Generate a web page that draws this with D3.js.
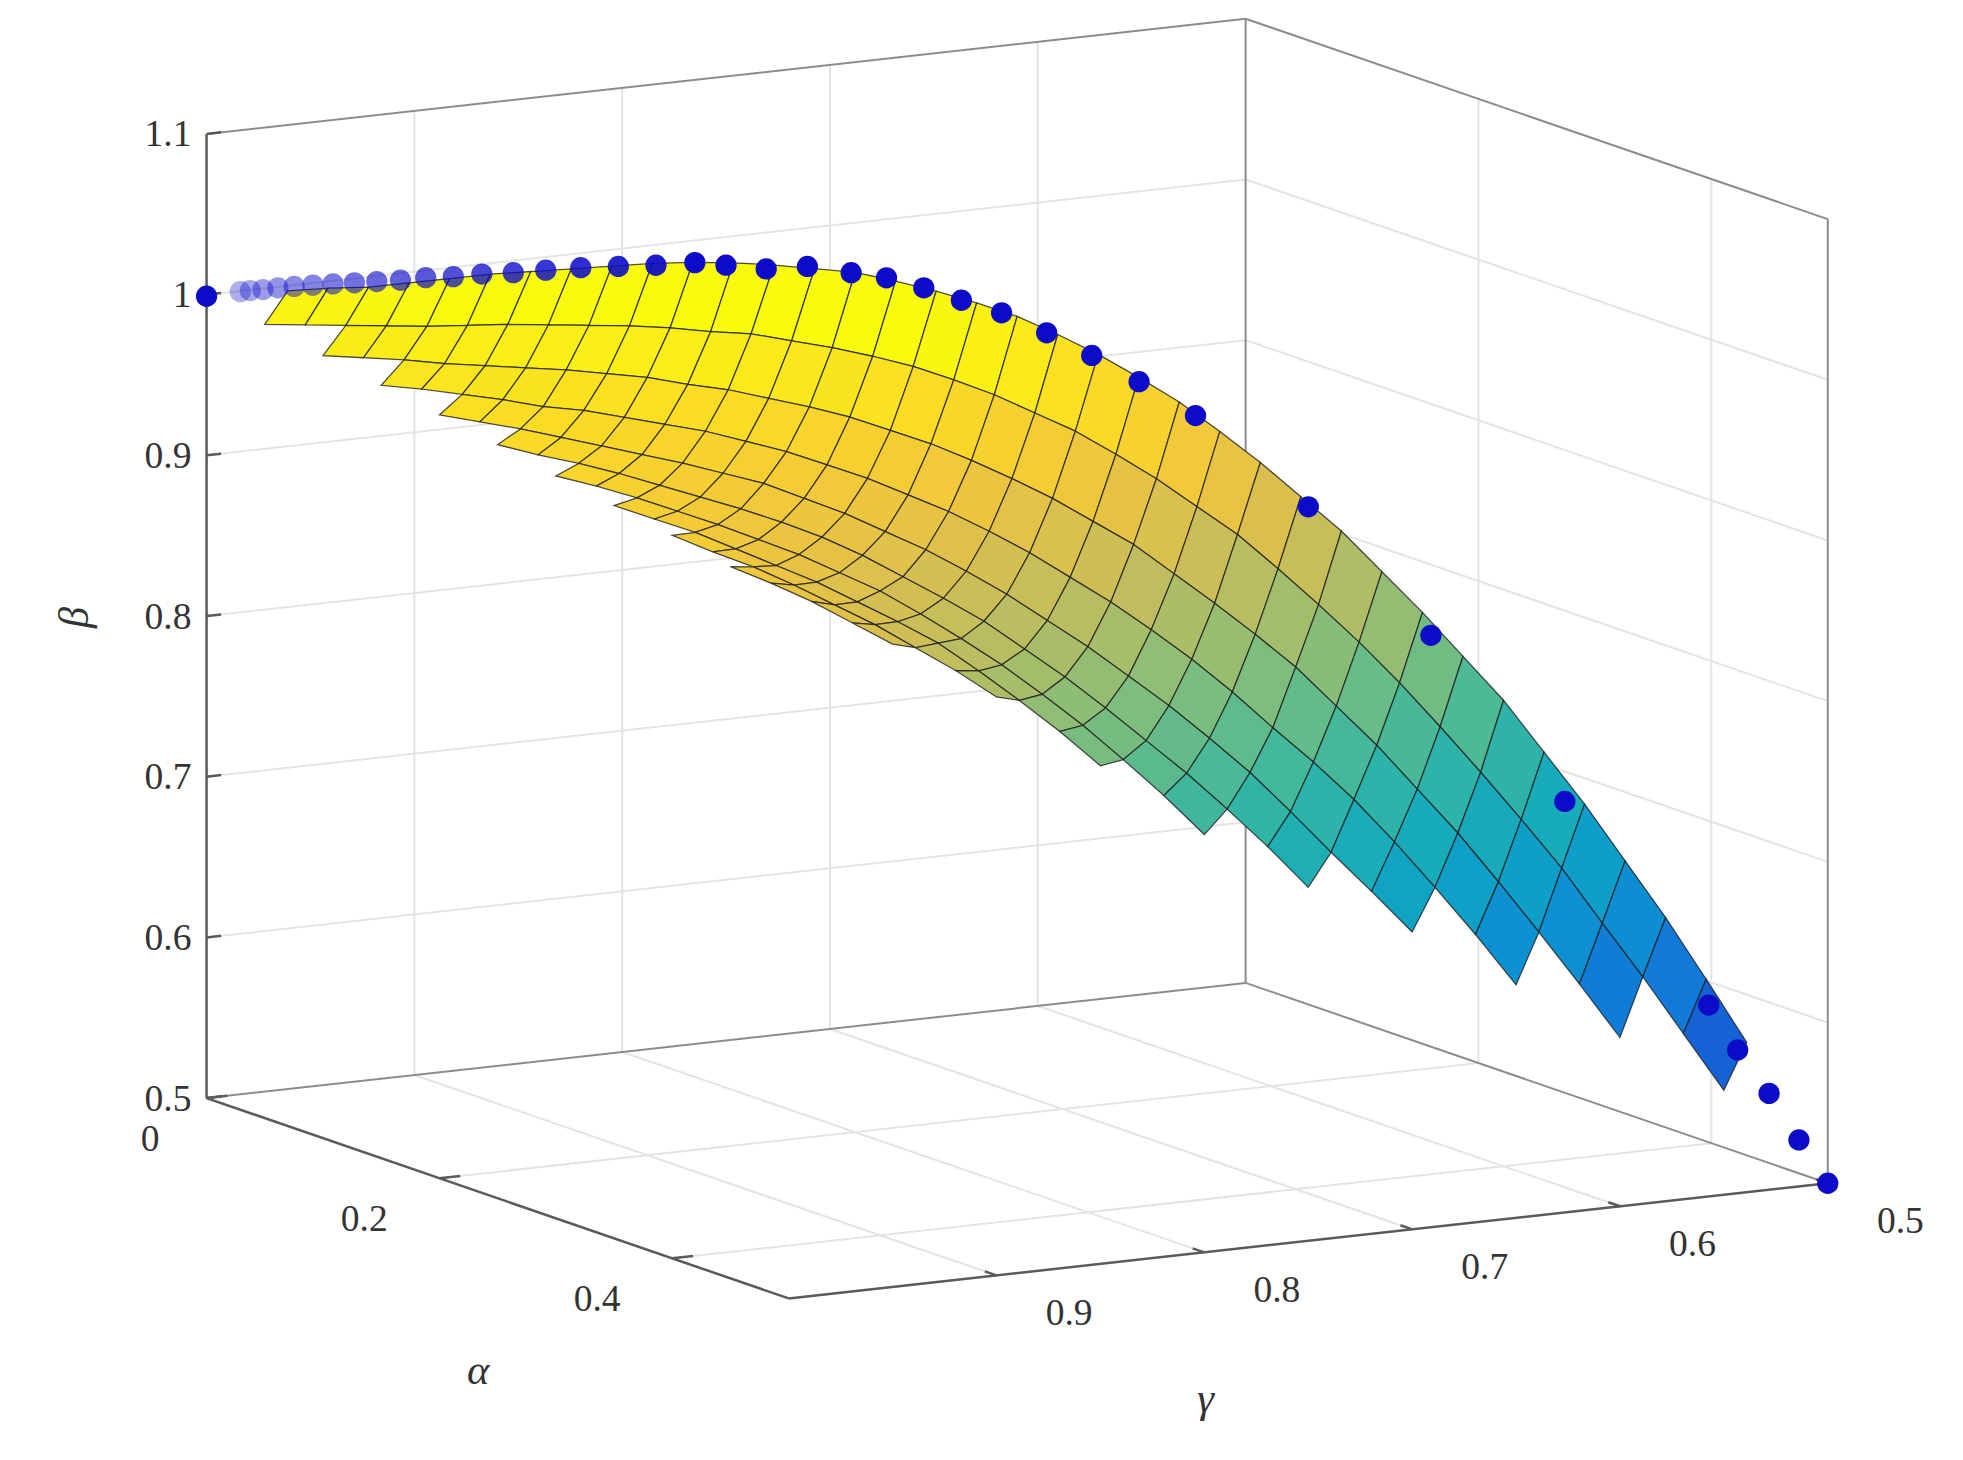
<!DOCTYPE html>
<html>
<head>
<meta charset="utf-8">
<script src="https://cdn.jsdelivr.net/npm/d3@7"></script>
<style>
  body { margin: 0; background: #fff; }
  text { font-family: "Liberation Serif", "DejaVu Serif", serif; fill: #333; }
</style>
</head>
<body>
<div id="chart"></div>
<script>
// Tick values for the three axes
var alphaTicks = [0, 0.2, 0.4];
var gammaTicks = [0.5, 0.6, 0.7, 0.8, 0.9];
var betaTicks = [0.5, 0.6, 0.7, 0.8, 0.9, 1, 1.1];
var alphaGrid = [0.2, 0.4];
var gammaGrid = [0.6, 0.7, 0.8, 0.9];

// Surface heights, row K: a = alpha + (1 - gamma) = K * 0.025,
// column j: b = alpha - (1 - gamma) = j * 0.05
var betaRows = [
  [1.0],
  [1.003],
  [1.005, 0.994],
  [1.008, 0.995],
  [1.01, 0.996, 0.987],
  [1.014, 0.997, 0.987],
  [1.018, 0.998, 0.987, 0.981],
  [1.022, 1.0, 0.986, 0.980],
  [1.025, 1.002, 0.986, 0.978, 0.975],
  [1.028, 1.003, 0.986, 0.976, 0.972],
  [1.031, 1.004, 0.986, 0.973, 0.969, 0.969],
  [1.034, 1.005, 0.985, 0.972, 0.965, 0.964],
  [1.036, 1.005, 0.984, 0.969, 0.961, 0.960, 0.962],
  [1.037, 1.004, 0.981, 0.966, 0.957, 0.955, 0.957],
  [1.037, 1.004, 0.979, 0.963, 0.953, 0.949, 0.951, 0.956],
  [1.036, 1.001, 0.975, 0.958, 0.948, 0.943, 0.944, 0.949],
  [1.035, 0.998, 0.971, 0.953, 0.943, 0.937, 0.937, 0.942, 0.950],
  [1.031, 0.994, 0.966, 0.946, 0.935, 0.930, 0.929, 0.933, 0.941],
  [1.026, 0.989, 0.959, 0.939, 0.927, 0.922, 0.921, 0.924, 0.933, 0.943],
  [1.020, 0.982, 0.952, 0.930, 0.917, 0.912, 0.911, 0.915, 0.923, 0.934],
  [1.013, 0.974, 0.943, 0.921, 0.907, 0.900, 0.901, 0.904, 0.912, 0.924, 0.937],
  [1.003, 0.964, 0.933, 0.910, 0.895, 0.888, 0.888, 0.893, 0.901, 0.912],
  [0.992, 0.954, 0.922, 0.898, 0.882, 0.875, 0.874, 0.881, 0.888, 0.900],
  [0.979, 0.941, 0.909, 0.884, 0.867, 0.859, 0.859, 0.865, 0.875],
  [0.965, 0.927, 0.896, 0.870, 0.852, 0.843, 0.842, 0.848, 0.860],
  [0.948, 0.911, 0.879, 0.854, 0.835, 0.825, 0.824, 0.830],
  [0.930, 0.895, 0.862, 0.837, 0.818, 0.806, 0.804, 0.810],
  [0.910, 0.875, 0.844, 0.818, 0.799, 0.787, 0.783],
  [0.890, 0.854, 0.825, 0.797, 0.779, 0.766, 0.760],
  [0.866, 0.832, 0.802, 0.777, 0.756, 0.744],
  [0.842, 0.808, 0.779, 0.755, 0.732, 0.720],
  [0.816, 0.782, 0.753, 0.730, 0.709],
  [0.790, 0.755, 0.727, 0.703, 0.685],
  [0.759, 0.727, 0.698, 0.675],
  [0.728, 0.698, 0.668, 0.645],
  [0.694, 0.665, 0.637],
  [0.660, 0.633, 0.605],
  [0.623, 0.599],
  [0.585, 0.565],
  [0.543],
  [0.5]
];

// Boundary points (alpha = 1 - gamma)
var dotGamma = [1, 0.9896, 0.9865, 0.9826, 0.978, 0.973, 0.9672, 0.961, 0.9544, 0.9475, 0.9402,
  0.9324, 0.9239, 0.9151, 0.9054, 0.8954, 0.8846, 0.873, 0.8614,
  0.8494, 0.8398, 0.8274, 0.8147, 0.8012, 0.7903, 0.7788, 0.7672, 0.7548, 0.7409, 0.727,
  0.7124, 0.695, 0.6602, 0.6224, 0.5811, 0.5367, 0.5278, 0.5181, 0.5089, 0.5];
var dotBeta = [0.999, 1.003, 1.004, 1.005, 1.0066, 1.008, 1.0094, 1.0108, 1.0122, 1.0137, 1.0153,
  1.0177, 1.0193, 1.0218, 1.0237, 1.0263, 1.029, 1.031, 1.033,
  1.0359, 1.0353, 1.0343, 1.0372, 1.0347, 1.0327, 1.0277, 1.0212, 1.0147, 1.0037, 0.9911,
  0.9763, 0.9571, 0.904, 0.828, 0.729, 0.607, 0.580, 0.554, 0.526, 0.5];

var svgWidth = 1963, svgHeight = 1460;
var svg = d3.select("#chart").append("svg")
  .attr("width", svgWidth).attr("height", svgHeight);
var g = svg.append("g").attr("transform", "scale(1.2519,1.2521)");

// Oblique projection built from scales
var xA = d3.scaleLinear().domain([0, 0.5]).range([0, 465]);
var yA = d3.scaleLinear().domain([0, 0.5]).range([0, 160]);
var xG = d3.scaleLinear().domain([1, 0.5]).range([0, 830]);
var yG = d3.scaleLinear().domain([1, 0.5]).range([0, -92]);
var yB = d3.scaleLinear().domain([0.5, 1.1]).range([0, -770]);
function P(a, gm, b) {
  return [165 + xA(a) + xG(gm), 877 + yA(a) + yG(gm) + yB(b)];
}
function seg(p, q, color, w) {
  g.append("line").attr("x1", p[0]).attr("y1", p[1]).attr("x2", q[0]).attr("y2", q[1])
    .attr("stroke", color).attr("stroke-width", w);
}

// Grid lines
var gc = "#e4e4e4";
betaTicks.slice(1, -1).forEach(function(b) {
  seg(P(0, 1, b), P(0, 0.5, b), gc, 1.6);
  seg(P(0, 0.5, b), P(0.5, 0.5, b), gc, 1.6);
});
gammaGrid.forEach(function(gm) {
  seg(P(0, gm, 0.5), P(0, gm, 1.1), gc, 1.6);
  seg(P(0, gm, 0.5), P(0.5, gm, 0.5), gc, 1.6);
});
alphaGrid.forEach(function(a) {
  seg(P(a, 0.5, 0.5), P(a, 0.5, 1.1), gc, 1.6);
  seg(P(a, 1, 0.5), P(a, 0.5, 0.5), gc, 1.6);
});

// Box edges
var bc = "#8c8c8c";
seg(P(0, 1, 1.1), P(0, 0.5, 1.1), bc, 1.6);
seg(P(0, 0.5, 1.1), P(0.5, 0.5, 1.1), bc, 1.6);
seg(P(0, 0.5, 0.5), P(0, 0.5, 1.1), bc, 1.6);
seg(P(0.5, 0.5, 0.5), P(0.5, 0.5, 1.1), bc, 1.6);
seg(P(0, 1, 0.5), P(0, 0.5, 0.5), bc, 1.6);
seg(P(0, 0.5, 0.5), P(0.5, 0.5, 0.5), bc, 1.6);

// Axes
var ac = "#5a5a5a";
seg(P(0, 1, 0.5), P(0, 1, 1.1), ac, 2);
seg(P(0, 1, 0.5), P(0.5, 1, 0.5), ac, 2);
seg(P(0.5, 1, 0.5), P(0.5, 0.5, 0.5), ac, 2);

betaTicks.forEach(function(b) {
  seg(P(0, 1, b), P(0, 0.993, b), ac, 2);
  var p = P(0, 1, b);
  g.append("text").attr("x", p[0] - 12).attr("y", p[1] + 10)
    .attr("text-anchor", "end").attr("font-size", 30).text(d3.format("~g")(b));
});
alphaTicks.forEach(function(a) {
  seg(P(a, 1, 0.5), P(a, 0.99, 0.5), ac, 2);
  var p = P(a, 1, 0.5);
  g.append("text").attr("x", p[0] - (a === 0 ? 45 : 60)).attr("y", p[1] + 42)
    .attr("text-anchor", "middle").attr("font-size", 30).text(d3.format("~g")(a));
});
gammaTicks.forEach(function(gm) {
  seg(P(0.5, gm, 0.5), P(0.49, gm, 0.5), ac, 2);
  var p = P(0.5, gm, 0.5);
  g.append("text").attr("x", p[0] + 58).attr("y", p[1] + 40)
    .attr("text-anchor", "middle").attr("font-size", 30).text(d3.format("~g")(gm));
});

g.append("text").attr("x", 382).attr("y", 1105).attr("text-anchor", "middle")
  .attr("font-size", 34).attr("font-style", "italic").text("α");
g.append("text").attr("x", 963).attr("y", 1128).attr("text-anchor", "middle")
  .attr("font-size", 34).attr("font-style", "italic").text("γ");
g.append("text").attr("transform", "translate(70,493) rotate(-90)").attr("text-anchor", "middle")
  .attr("font-size", 34).attr("font-style", "italic").text("β");

// Parula colour map
var parula = ["#352a87", "#0f5cdd", "#1481d6", "#06a4ca", "#2eb7a4", "#87bf77", "#d1bb59", "#fec832", "#f9fb0e"];
var color = d3.scaleSequential(d3.interpolateRgbBasis(parula)).domain([0.52, 1.01]).clamp(true);

// Surface cells
function node(K, j) {
  var a = K * 0.025, b = j * 0.05;
  var al = (a + b) / 2, u = (a - b) / 2;
  return { al: al, gm: 1 - u, be: betaRows[K][j] };
}
var cells = [];
for (var K = 0; K < betaRows.length - 1; K++) {
  for (var j = 0; j + 1 < betaRows[K].length && j + 1 < betaRows[K + 1].length; j++) {
    var c = [node(K, j), node(K + 1, j), node(K + 1, j + 1), node(K, j + 1)];
    var al = d3.mean(c, d => d.al), u = 1 - d3.mean(c, d => d.gm);
    cells.push({ pts: c, z: d3.mean(c, d => d.be), depth: 1.744 * al - 0.978 * u });
  }
}
cells.sort((p, q) => p.depth - q.depth);
g.append("g").selectAll("path").data(cells).enter().append("path")
  .attr("d", d => "M" + d.pts.map(n => P(n.al, n.gm, n.be).join(",")).join("L") + "Z")
  .attr("fill", d => color(d.z))
  .attr("stroke", "#1e1e1e").attr("stroke-width", 1).attr("stroke-opacity", 0.8);

// Boundary dots
var dots = dotGamma.map((gm, i) => ({ al: 1 - gm, gm: gm, be: dotBeta[i], i: i }));
g.append("g").selectAll("circle").data(dots).enter().append("circle")
  .attr("cx", d => P(d.al, d.gm, d.be)[0])
  .attr("cy", d => P(d.al, d.gm, d.be)[1])
  .attr("r", 8.5)
  .attr("fill", "#0b0bc8")
  .attr("fill-opacity", d => (d.i >= 1 && d.i <= 18) ? 0.3 + d.i * 0.035 : 1);
</script>
</body>
</html>
